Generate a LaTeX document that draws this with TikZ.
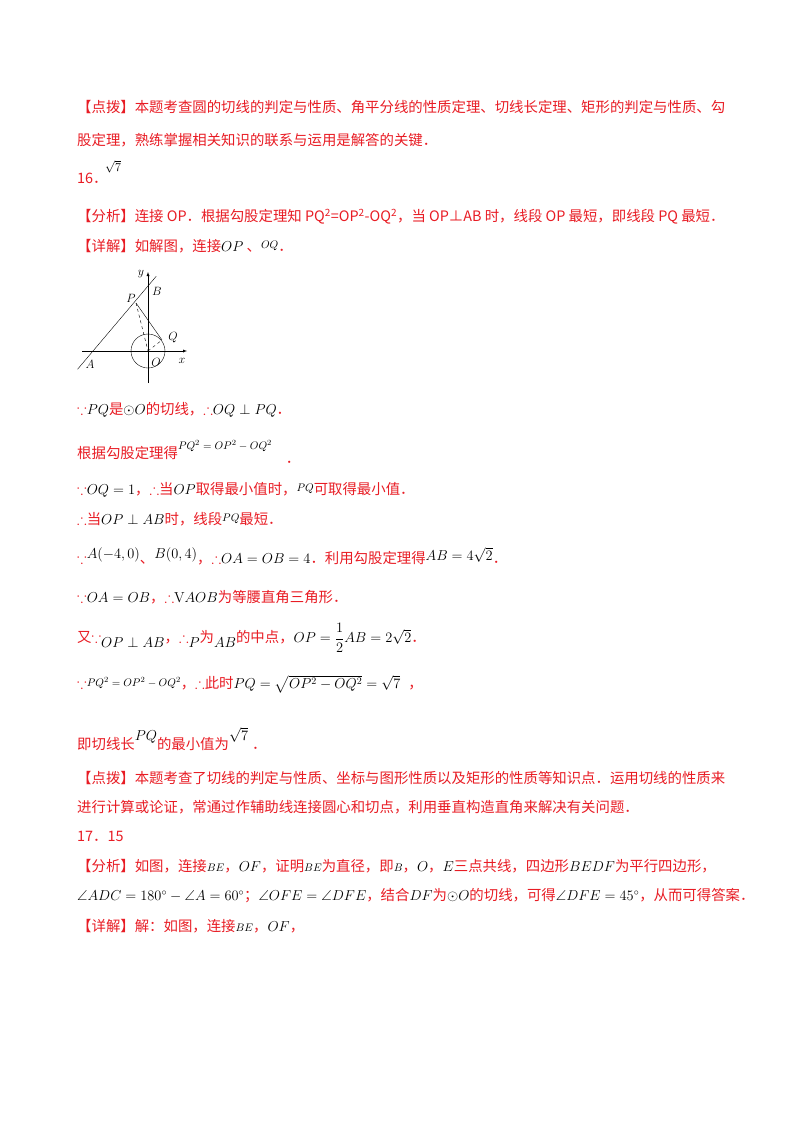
\documentclass[tikz,border=0pt]{standalone}
\usepackage{amsmath,amssymb}
\usepackage{fontspec}
\newfontfamily\cjk{Noto Sans CJK SC}
\usetikzlibrary{calc}
\usetikzlibrary{positioning}
\definecolor{answerred}{RGB}{232,28,36}
\newcommand\mth[1]{\textcolor{black}{$#1$}}
\newcommand\smth[1]{\textcolor{black}{\fontsize{11}{11}\selectfont$#1$}}
\tikzset{
  textline/.style={anchor=west,inner sep=0pt,text=answerred,font=\cjk\fontsize{14.4}{16}\selectfont},
  figlabel/.style={inner sep=0pt,font=\fontsize{12}{12}\selectfont}
}
\begin{document}
\begin{tikzpicture}[x=1pt,y=-1pt]
			\useasboundingbox (0,0) rectangle (800,1132);
			%problem 15 remark
			\node[textline] (rmkA) at (77,107) {【点拨】本题考查圆的切线的判定与性质、角平分线的性质定理、切线长定理、矩形的判定与性质、勾};
			\node[textline] (rmkB) at (77,140) {股定理，熟练掌握相关知识的联系与运用是解答的关键．};
			%problem 16
			\node[textline] (num16) at (77,178) {16．};
			\node[anchor=west,inner sep=0pt,font=\fontsize{12}{12}\selectfont] (ans16) at (105,167) {$\sqrt{7}$};
			\node[textline] (anaA) at (77,217) {【分析】连接 OP．根据勾股定理知 PQ\textsuperscript{2}=OP\textsuperscript{2}-OQ\textsuperscript{2}，当 OP⊥AB 时，线段 OP 最短，即线段 PQ 最短．};
			\node[textline] (detA) at (77,246) {【详解】如解图，连接\mth{OP} 、\raisebox{3pt}{\smth{OQ}}．};
			%figure
			\coordinate (O) at (148,351);
			\coordinate (A) at (93,351);
			\coordinate (B) at (148,286);
			\coordinate (P) at (136,303);
			\coordinate (Q) at (162,340);
			\draw[->,>=latex] (82,351) -- (187,351);
			\draw[->,>=latex] (148,383) -- (148,272);
			\draw (O) circle (17);
			\draw ($(A)!-0.28!(B)$) -- ($(A)!1.15!(B)$);
			\draw (P) -- (Q);
			\draw[dashed] (P) -- (O);
			\draw[dashed] (O) -- (Q);
			\node[figlabel] at (141,274) {$y$};
			\node[figlabel] at (157,291) {$B$};
			\node[figlabel] at (131,298) {$P$};
			\node[figlabel] at (173,338) {$Q$};
			\node[figlabel] at (156,362) {$O$};
			\node[figlabel] at (90,364) {$A$};
			\node[figlabel] at (182,361) {$x$};
			%solution lines
			\node[textline] (s1) at (77,410) {$\because$\mth{PQ}是\mth{\odot O}的切线，$\therefore$\mth{OQ\perp PQ}．};
			\node[textline] (s2) at (77,452) {根据勾股定理得\raisebox{9pt}{\smth{PQ^2=OP^2-OQ^2}}\hspace{14pt}\raisebox{-5pt}{．}};
			\node[textline] (s3) at (77,490) {$\because$\mth{OQ=1}，$\therefore$当\mth{OP}取得最小值时，\raisebox{3pt}{\smth{PQ}}可取得最小值．};
			\node[textline] (s4) at (77,519) {$\therefore$当\mth{OP\perp AB}时，线段\raisebox{3pt}{\smth{PQ}}最短．};
			\node[textline] (s5) at (77,556) {$\because$\raisebox{5pt}{\mth{A(-4,0)}}、\raisebox{5pt}{\mth{B(0,4)}}，$\therefore$\mth{OA=OB=4}．利用勾股定理得\raisebox{3pt}{\mth{AB=4\sqrt{2}}}．};
			\node[textline] (s6) at (77,597) {$\because$\mth{OA=OB}，$\therefore$\mth{\mathrm{V}AOB}为等腰直角三角形．};
			\node[textline] (s7) at (77,638) {又$\because$\raisebox{-5pt}{\mth{OP\perp AB}}，$\therefore$\raisebox{-5pt}{\mth{P}}为\raisebox{-5pt}{\mth{AB}}的中点，\mth{OP=\dfrac{1}{2}AB=2\sqrt{2}}．};
			\node[textline] (s8) at (77,684) {$\because$\raisebox{2pt}{\smth{PQ^2=OP^2-OQ^2}}，$\therefore$此时\mth{PQ=\sqrt{OP^2-OQ^2}=\sqrt{7}}\hspace{8pt}，};
			\node[textline] (s9) at (77,739) {即切线长\raisebox{9pt}{\mth{PQ}}的最小值为\raisebox{9pt}{\mth{\sqrt{7}}}\hspace{4pt}．};
			%remark 16
			\node[textline] (rmk16A) at (77,778) {【点拨】本题考查了切线的判定与性质、坐标与图形性质以及矩形的性质等知识点．运用切线的性质来};
			\node[textline] (rmk16B) at (77,807) {进行计算或论证，常通过作辅助线连接圆心和切点，利用垂直构造直角来解决有关问题．};
			%problem 17
			\node[textline] (num17) at (77,836) {17．15};
			\node[textline] (ana17A) at (77,866) {【分析】如图，连接\smth{BE}，\mth{OF}，证明\smth{BE}为直径，即\smth{B}，\mth{O}，\mth{E}三点共线，四边形\mth{BEDF}为平行四边形，};
			\node[textline] (ana17B) at (77,896) {\mth{\angle ADC=180^\circ-\angle A=60^\circ}；\mth{\angle OFE=\angle DFE}，结合\mth{DF}为\mth{\odot O}的切线，可得\mth{\angle DFE=45^\circ}，从而可得答案．};
			\node[textline] (det17) at (77,926) {【详解】解：如图，连接\smth{BE}，\mth{OF}，};
		\end{tikzpicture}
\end{document}
